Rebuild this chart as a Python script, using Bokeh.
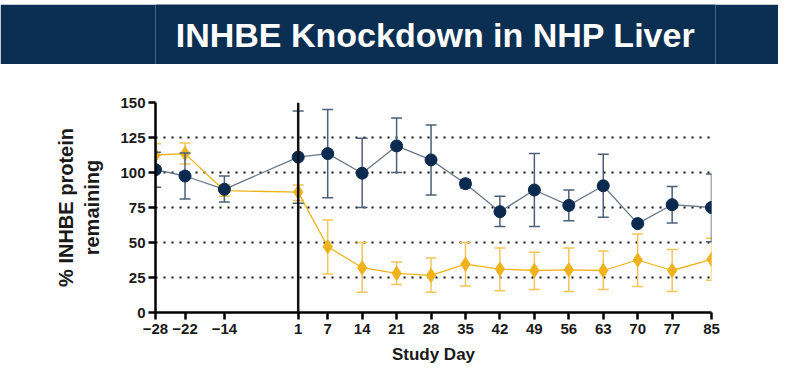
from bokeh.plotting import figure
from bokeh.models import ColumnDataSource, Span, FixedTicker, Spacer
from bokeh.layouts import column
from bokeh.core.properties import value
from bokeh.embed import file_html
from bokeh.resources import INLINE

# ---------------- data ----------------
title_text = "INHBE Knockdown in NHP Liver"
days = [-28, -22, -14, 1, 7, 14, 21, 28, 35, 42, 49, 56, 63, 70, 77, 85]
blue_mean = [102, 97.5, 88, 111, 113.5, 99.5, 119, 109, 92, 72, 87.5, 76.5, 90.5, 63.5, 77, 75]
blue_upper = [114.5, 114, 97.5, 144, 145, 124.5, 139, 134, 95, 83, 113.5, 87.5, 113, 65, 90, 99]
blue_lower = [89.5, 81, 79, 78, 82, 75, 100, 84, 89, 61.5, 61.5, 65.5, 68, 62, 64, 50.5]
yellow_mean = [112.5, 113.5, 87, 86, 47, 32, 28, 26.5, 34.5, 31, 30, 30.5, 30, 37.5, 30, 38]
yellow_upper = [120.5, 121, 91.5, 91, 66, 50, 36, 39, 50, 46, 43, 46, 44, 56, 45, 53]
yellow_lower = [105, 106, 83, 80, 27.5, 14.5, 20, 14.5, 19, 15.5, 16.5, 15, 16.5, 18.5, 15, 23]
y_ticks = [0, 25, 50, 75, 100, 125, 150]
dose_day = 1

FONT = "Liberation Sans"
NAVY = "#0b2f52"
BLUE = "#0a2a50"
BLUE_ERR = "#4d5f7a"
BLUE_LINE = "#6a7789"
GOLD = "#f0b21c"
GOLD_ERR = "#f2c55a"

# ---------------- title bar ----------------
tp = figure(width=778, height=60, x_range=(0, 1), y_range=(0, 1),
            output_backend="svg", toolbar_location=None,
            min_border=0, background_fill_color=NAVY, border_fill_color=NAVY)
tp.axis.visible = False
tp.grid.visible = False
tp.outline_line_color = None
tp.text(x=[0.5], y=[0.5], text=[title_text], text_align="center",
        text_baseline="middle", text_color="white", text_font=value(FONT),
        text_font_style="bold", text_font_size="34px")

# ---------------- main chart ----------------
blue = ColumnDataSource(dict(x=days, y=blue_mean, up=blue_upper, lo=blue_lower))
gold = ColumnDataSource(dict(x=days, y=yellow_mean, up=yellow_upper, lo=yellow_lower))

p = figure(width=774, height=309, x_range=(-28, 85), y_range=(0, 150),
           output_backend="svg", toolbar_location=None,
           min_border_left=155, min_border_right=63,
           min_border_top=38, min_border_bottom=61)
p.outline_line_color = None
p.xgrid.visible = False
p.ygrid.ticker = FixedTicker(ticks=y_ticks[1:])
p.ygrid.grid_line_color = "#111111"
p.ygrid.grid_line_width = 2
p.ygrid.grid_line_dash = "2 6"

for ax in (p.xaxis[0], p.yaxis[0]):
    ax.axis_line_width = 2.5
    ax.axis_line_color = "black"
    ax.major_tick_line_width = 2.5
    ax.major_tick_line_color = "black"
    ax.major_tick_out = 7
    ax.major_tick_in = 0
    ax.minor_tick_line_color = None
    ax.major_label_text_font = FONT
    ax.major_label_text_font_style = "bold"
    ax.major_label_text_font_size = "15px"
    ax.major_label_text_color = "#1a1a1a"
    ax.axis_label_text_font = FONT
    ax.axis_label_text_font_style = "bold"
    ax.axis_label_text_color = "#1a1a1a"

p.xaxis.ticker = FixedTicker(ticks=days)
p.yaxis.ticker = FixedTicker(ticks=y_ticks)
p.xaxis.major_label_standoff = 4
p.yaxis.major_label_standoff = 3
p.xaxis.axis_label = "Study Day"
p.xaxis.axis_label_text_font_size = "17px"
p.xaxis.axis_label_standoff = 8
p.yaxis.axis_label = "% INHBE protein\nremaining"
p.yaxis.axis_label_text_font_size = "20px"
p.yaxis.axis_label_standoff = 14

p.add_layout(Span(location=dose_day, dimension="height", line_color="#111111", line_width=2.5))

# gold series
p.segment(x0="x", y0="lo", x1="x", y1="up", source=gold, line_color=GOLD_ERR, line_width=1.5)
p.scatter(x="x", y="up", source=gold, marker="dash", size=11, line_color=GOLD_ERR, line_width=1.5)
p.scatter(x="x", y="lo", source=gold, marker="dash", size=11, line_color=GOLD_ERR, line_width=1.5)
p.line(x="x", y="y", source=gold, line_color=GOLD, line_width=1.3)
p.scatter(x="x", y="y", source=gold, marker="diamond", size=14, fill_color=GOLD, line_color=GOLD)

# blue series
p.segment(x0="x", y0="lo", x1="x", y1="up", source=blue, line_color=BLUE_ERR, line_width=1.5)
p.scatter(x="x", y="up", source=blue, marker="dash", size=11, line_color=BLUE_ERR, line_width=1.5)
p.scatter(x="x", y="lo", source=blue, marker="dash", size=11, line_color=BLUE_ERR, line_width=1.5)
p.line(x="x", y="y", source=blue, line_color=BLUE_LINE, line_width=1.3)
p.scatter(x="x", y="y", source=blue, marker="circle", size=12, fill_color=BLUE, line_color=BLUE)

layout = column(Spacer(width=778, height=4), tp, p, spacing=0)
open("out.html", "w").write(file_html(layout, INLINE))
